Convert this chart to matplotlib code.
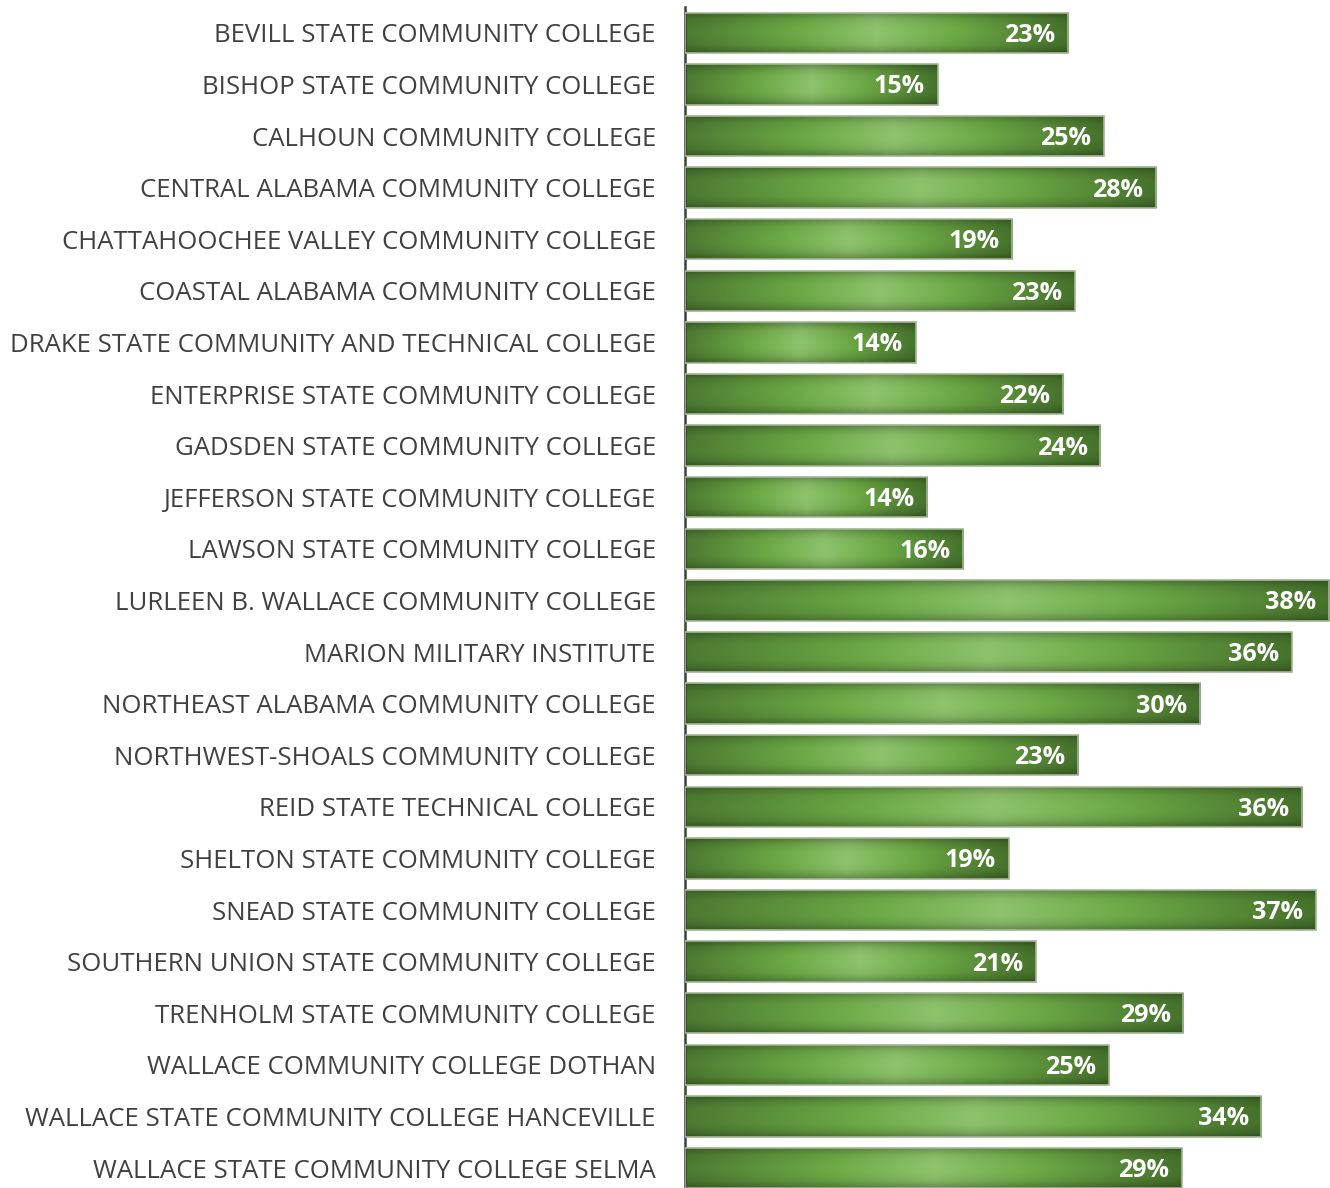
import numpy as np
import matplotlib
matplotlib.use("Agg")
import matplotlib.pyplot as plt
from matplotlib.colors import LinearSegmentedColormap
from matplotlib.patches import Rectangle

plt.rcParams['font.family'] = ['Open Sans', 'DejaVu Sans']

colleges = [
    "BEVILL STATE COMMUNITY COLLEGE",
    "BISHOP STATE COMMUNITY COLLEGE",
    "CALHOUN COMMUNITY COLLEGE",
    "CENTRAL ALABAMA COMMUNITY COLLEGE",
    "CHATTAHOOCHEE VALLEY COMMUNITY COLLEGE",
    "COASTAL ALABAMA COMMUNITY COLLEGE",
    "DRAKE STATE COMMUNITY AND TECHNICAL COLLEGE",
    "ENTERPRISE STATE COMMUNITY COLLEGE",
    "GADSDEN STATE COMMUNITY COLLEGE",
    "JEFFERSON STATE COMMUNITY COLLEGE",
    "LAWSON STATE COMMUNITY COLLEGE",
    "LURLEEN B. WALLACE COMMUNITY COLLEGE",
    "MARION MILITARY INSTITUTE",
    "NORTHEAST ALABAMA COMMUNITY COLLEGE",
    "NORTHWEST-SHOALS COMMUNITY COLLEGE",
    "REID STATE TECHNICAL COLLEGE",
    "SHELTON STATE COMMUNITY COLLEGE",
    "SNEAD STATE COMMUNITY COLLEGE",
    "SOUTHERN UNION STATE COMMUNITY COLLEGE",
    "TRENHOLM STATE COMMUNITY COLLEGE",
    "WALLACE COMMUNITY COLLEGE DOTHAN",
    "WALLACE STATE COMMUNITY COLLEGE HANCEVILLE",
    "WALLACE STATE COMMUNITY COLLEGE SELMA",
]
# percent values
values = [22.6, 14.9, 24.7, 27.8, 19.3, 23.0, 13.6, 22.3, 24.5, 14.3, 16.4, 38.0,
          35.8, 30.4, 23.2, 36.4, 19.1, 37.2, 20.7, 29.4, 25.0, 34.0, 29.3]

fig = plt.figure(figsize=(13.3, 11.88), dpi=100)
ax = fig.add_axes([685 / 1330, 0, 1 - 685 / 1330, 1 - 7 / 1188])

n = len(colleges)
ypos = np.arange(n)
h = 0.78

# gradient: dark-light-dark along the bar, darker at top/bottom edges
hcmap = LinearSegmentedColormap.from_list("g", [
    (0.0, "#4c7a31"), (0.3, "#6daa46"), (0.5, "#8ec36c"), (0.7, "#6daa46"), (1.0, "#46722c")])
xs = np.linspace(0, 1, 256)
vs = np.linspace(-1, 1, 64)
base = hcmap(xs)[None, :, :3]
shade = (1 - 0.3 * np.abs(vs) ** 3)[:, None, None]
grad = np.clip(base * shade, 0, 1)

bars = ax.barh(ypos, values, height=h, color="none", edgecolor="#a3b894", linewidth=1.2, zorder=3)
for b, v, y in zip(bars, values, ypos):
    im = ax.imshow(grad, extent=(0, v, y + h / 2, y - h / 2), aspect="auto",
                   interpolation="bicubic", zorder=2)
    clip = Rectangle((0, y - h / 2), v, h, transform=ax.transData)
    im.set_clip_path(clip)
    ax.text(v - 0.75, y + 0.05, "%d%%" % round(v), ha="right", va="center",
            color="white", fontsize=18, fontweight="bold", zorder=4)

ax.set_xlim(0, 38.05)
ax.set_ylim(22 + 20 / 51.6, -0.5)
ax.set_yticks(ypos)
ax.set_yticklabels(colleges, fontsize=18.5, color="#404040")
ax.tick_params(axis="y", length=0, pad=21)
ax.set_xticks([])
for s in ["top", "right", "bottom"]:
    ax.spines[s].set_visible(False)
ax.spines["left"].set_color("#404040")
ax.spines["left"].set_linewidth(1.8)

fig.savefig("out.png", dpi=100)
